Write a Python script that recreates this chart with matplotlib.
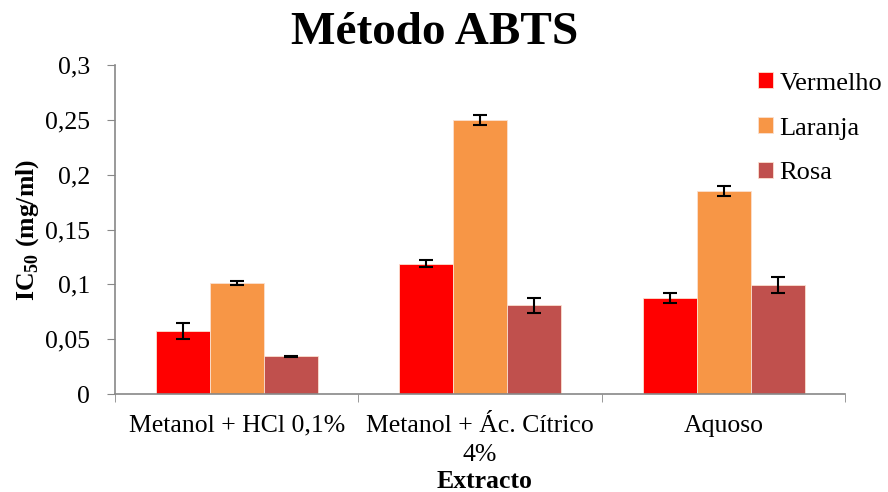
import matplotlib
matplotlib.use('Agg')
from matplotlib import pyplot as plt
import numpy as np

plt.rcParams['font.family'] = ['Liberation Serif', 'DejaVu Serif']
plt.rcParams['mathtext.fontset'] = 'custom'
plt.rcParams['mathtext.rm'] = 'Liberation Serif'
plt.rcParams['mathtext.bf'] = 'Liberation Serif:bold'

# dados
categorias = ['Metanol + HCl 0,1%', 'Metanol + Ác. Cítrico\n4%', 'Aquoso']
series = ['Vermelho', 'Laranja', 'Rosa']
cores = ['#ff0000', '#f79646', '#c0504d']
valores = [
    [0.0575, 0.119, 0.0875],   # Vermelho
    [0.101, 0.250, 0.185],     # Laranja
    [0.0345, 0.081, 0.0995],   # Rosa
]
erros = [
    [0.0073, 0.003, 0.0045],
    [0.002, 0.0045, 0.0045],
    [0.0005, 0.007, 0.007],
]
yticks = [0, 0.05, 0.1, 0.15, 0.2, 0.25, 0.3]
ytick_labels = ['0', '0,05', '0,1', '0,15', '0,2', '0,25', '0,3']

fs = 18.5

fig = plt.figure(figsize=(8.88, 4.92), dpi=100)
ax = fig.add_axes([0.1295, 0.199, 0.8225, 0.669])

x = np.arange(len(categorias))
largura = 0.222
for i, (nome, cor) in enumerate(zip(series, cores)):
    ax.bar(x + (i - 1) * largura, valores[i], largura, color=cor, label=nome,
           edgecolor='#fbe0d0', linewidth=0.6,
           yerr=erros[i], capsize=5,
           error_kw=dict(ecolor='black', elinewidth=1.5, capthick=1.5))

ax.set_xlim(-0.5, len(categorias) - 0.5)
ax.set_ylim(0, 0.3)
ax.set_yticks(yticks)
ax.set_yticklabels(ytick_labels, fontsize=fs)
ax.set_xticks(x)
ax.set_xticklabels(categorias, fontsize=fs, linespacing=1.42)
ax.set_xticks(np.arange(len(categorias) + 1) - 0.5, minor=True)
ax.tick_params(axis='x', which='major', length=0, pad=15)
ax.tick_params(axis='x', which='minor', length=6, color='#888888', direction='out')
ax.tick_params(axis='y', length=6, color='#888888', direction='out', pad=12)

for lado in ['top', 'right']:
    ax.spines[lado].set_visible(False)
for lado in ['left', 'bottom']:
    ax.spines[lado].set_color('#888888')
    ax.spines[lado].set_linewidth(1.2)

ax.set_ylabel(r'IC$_{\mathbf{50}}$ (mg/ml)', fontsize=fs, fontweight='bold', labelpad=3)
fig.text(0.546, 1 - 481 / 492, 'Extracto', fontsize=fs, fontweight='bold',
         ha='center', va='center')
fig.text(0.49, 1 - 33 / 492, 'Método ABTS', fontsize=34, fontweight='bold',
         ha='center', va='center')

ax.legend(loc='upper left', bbox_to_anchor=(0.848, 1.05), frameon=False,
          fontsize=19, labelspacing=0.86, handlelength=0.55, handleheight=0.55,
          handletextpad=0.25)

fig.savefig('out.png', dpi=100)
